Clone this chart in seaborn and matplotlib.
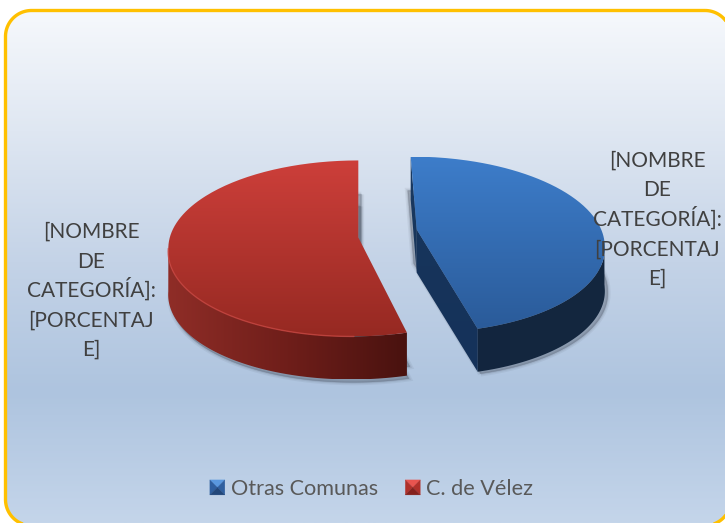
import numpy as np
import matplotlib
matplotlib.use('Agg')
import matplotlib.pyplot as plt
import seaborn as sns
from matplotlib.legend_handler import HandlerBase
from matplotlib.patches import Patch, PathPatch, Polygon
from matplotlib.path import Path
from matplotlib.transforms import Affine2D

categories = ['Otras Comunas', 'C. de Vélez']
shares = [45.3, 54.7]
explode = [0.15, 0.15]
label_lines = ['[NOMBRE', 'DE', 'CATEGORÍA]:', '[PORCENTAJ', 'E]']

W, H = 725, 523
CX, CY = 386.5, 246.5     # pie centre, pixels
RX, RY = 190.0, 88.0      # pixels for one unit of radius
DEPTH = 43 / RY

sns.set_theme(style='white')
plt.rcParams['font.family'] = ['Lato', 'DejaVu Sans']


def dx(px):
    return px / RX


def dy(px):
    return px / RY


def arc(c, a, b, skew, n=200):
    t = np.radians(np.linspace(a, b, n))
    s = np.sin(t)
    # perspective leans the ellipse a little
    lean = np.where(s > 0, -dx(skew[0]) * s, -dx(skew[1]) * s)
    return np.column_stack([c[0] + np.cos(t) + lean, c[1] + s])


def shade(ax, colors, extent, clip, horizontal=False, z=2):
    cmap = sns.blend_palette(colors, 256, as_cmap=True)
    g = np.linspace(0, 1, 256)
    g = g[None, :] if horizontal else g[:, None]
    im = ax.imshow(g, cmap=cmap, extent=extent, origin='upper' if not horizontal else 'lower',
                   aspect='auto', interpolation='bilinear', zorder=z)
    im.set_clip_path(clip)
    return im


def poly(ax, pts, z):
    p = Polygon(pts, closed=True, facecolor='none', edgecolor='none', transform=ax.transData, zorder=z)
    ax.add_patch(p)
    return p


def shadow(ax, pts, off_x, off_y):
    shifted = pts + [dx(off_x), -dy(off_y)]
    for lw, a in [(4, 0.07), (2, 0.1), (0.5, 0.16)]:
        ax.add_patch(PathPatch(Path(shifted), facecolor='#3b4250', edgecolor='#3b4250',
                               lw=lw, alpha=a, zorder=1.5))


def frame_points(x0, y0, x1, y1, r):
    corners = [(x1 - r, y0 + r, -90, 0), (x1 - r, y1 - r, 0, 90),
               (x0 + r, y1 - r, 90, 180), (x0 + r, y0 + r, 180, 270)]
    out = []
    for cx, cy, a, b in corners:
        t = np.radians(np.linspace(a, b, 40))
        out.append(np.column_stack([cx + r * np.cos(t), cy + r * np.sin(t)]))
    return np.vstack(out)


class BevelHandler(HandlerBase):
    def create_artists(self, legend, orig_handle, xdescent, ydescent, width, height, fontsize, trans):
        light, mid, dark = orig_handle.bevel
        x0, y0 = -xdescent, -ydescent
        x1, y1 = x0 + width, y0 + height
        m = (x0 + width / 2, y0 + height / 2)
        faces = [([(x0, y1), (x1, y1), m], light), ([(x0, y0), (x0, y1), m], mid),
                 ([(x1, y0), (x1, y1), m], mid), ([(x0, y0), (x1, y0), m], dark)]
        return [Polygon(p, closed=True, facecolor=c, edgecolor=c, lw=0.2, transform=trans) for p, c in faces]


fig = plt.figure(figsize=(W / 100, H / 100), dpi=100)
ax = fig.add_axes([0, 0, 1, 1])

wedges, _ = ax.pie(shares, explode=explode, startangle=90, counterclock=False, radius=1,
                   colors=['#3269ad', '#b4322d'], wedgeprops={'lw': 0, 'zorder': 3})

ax.set_aspect('auto')
xlim = (dx(-CX), dx(W - CX))
ylim = (dy(CY - H), dy(CY))
full = (xlim[0], xlim[1], ylim[0], ylim[1])

to_x = lambda px: dx(px - CX)
to_y = lambda py: dy(CY - py)

# panel with the rounded yellow frame, pixels with y going down
panel = Polygon(frame_points(5.5, 10.5, 731, 525.5, 26), closed=True, facecolor='none',
                edgecolor='#FFC000', lw=2.4, zorder=1.2,
                transform=Affine2D().scale(1, -1).translate(0, H))
ax.add_patch(panel)
shade(ax, ['#f8fafd', '#dfe7f2', '#c4d3e7', '#aec4df', '#c4d5ea'], full, panel, z=0.5)

# perspective moves the apex of each slice up from the pie centre
apex_shift = [(dx(2), dy(15)), (0, dy(11))]
leans = [(4, 8), (0, -7)]
face_tones = [['#3d7dca', '#2a5a98'], ['#cd3f3a', '#962922']]
wall_tones = [['#10233d', '#14273f'], ['#8f2d27', '#6f1e1a', '#49120f']]

for i, (w, shift, lean, tones, wall) in enumerate(zip(wedges, apex_shift, leans, face_tones, wall_tones)):
    c = w.center
    outline = arc(c, w.theta1, w.theta2, lean)
    apex = np.array([c[0] + shift[0], c[1] + shift[1]])
    pts = np.vstack([outline, apex, outline[0]])
    w._path = Path(pts, closed=False)
    w.set_facecolor('none')
    down = np.array([0, -DEPTH])
    box = (c[0] - 1, c[0] + 1, c[1] - 1 - DEPTH, c[1] + 1)

    if i == 0:
        # blue slice: outer wall on the right, cut wall in front, thin wall on the left
        front = arc(c, w.theta1, 2, lean)
        top_pt = outline[-1]
        cut = np.array([apex, outline[0], outline[0] + down, apex + down])
        left = np.array([top_pt, apex, apex + down, top_pt + down])
        shadow(ax, pts, -3, 34)
        shadow(ax, pts, 3, 45)
        shade(ax, wall, box, poly(ax, np.vstack([front, (front + down)[::-1]]), 2), horizontal=True, z=2)
        shade(ax, ['#18365c', '#15325a'], box, poly(ax, cut, 2), z=2.1)
        shade(ax, ['#1a3a63', '#16304f'], box, poly(ax, left, 2), z=2.1)
    else:
        front = arc(c, -180, w.theta2, lean)
        shadow(ax, pts, 3, 34)
        shadow(ax, pts, 2, 46)
        shade(ax, wall, (c[0] - 1, front[-1, 0], box[2], box[3]),
              poly(ax, np.vstack([front, (front + down)[::-1]]), 2), horizontal=True, z=2)
        ax.plot(front[:170, 0], front[:170, 1], color='#c9443e', lw=1, alpha=0.8, zorder=3.5)

    shade(ax, tones, (c[0] - 1, c[0] + 1, c[1] - 1, c[1] + 1), w, z=3)

ax.set_xlim(*xlim)
ax.set_ylim(*ylim)
ax.axis('off')

# data labels keep the placeholder text of the source chart, one text per line
for x, first_base in [(91, 238), (657, 167)]:
    for n, line in enumerate(label_lines):
        ax.text(to_x(x), to_y(first_base + 29.5 * n), line, ha='center', va='baseline',
                fontsize=15, color='#404040', zorder=5)

h1 = Patch(label=categories[0])
h1.bevel = ('#5a98de', '#2f5f9f', '#22477a')
h2 = Patch(label=categories[1])
h2.bevel = ('#e8544f', '#b0302a', '#85211d')
ax.legend(handles=[h1, h2], handler_map={Patch: BevelHandler()}, ncol=2, frameon=False,
          loc='center', bbox_to_anchor=(371.5 / W, 1 - 489 / H), fontsize=15.6,
          labelcolor='#595959', handlelength=0.69, handleheight=0.69, handletextpad=0.27,
          columnspacing=1.27, borderpad=0, borderaxespad=0)

plt.savefig('out.png', dpi=100)
